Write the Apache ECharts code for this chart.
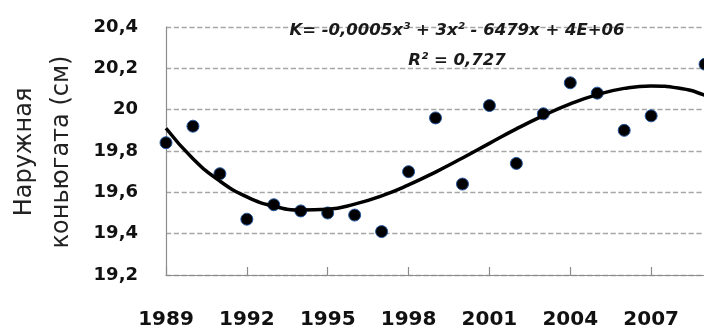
<!DOCTYPE html>
<html>
<head>
<meta charset="utf-8">
<script src="https://cdn.jsdelivr.net/npm/echarts@6/dist/echarts.min.js"></script>
<style>
  html, body { margin: 0; padding: 0; background: #ffffff; }
  #chart { width: 704px; height: 329px; }
</style>
</head>
<body>
<div id="chart"></div>
<script>
// Observed measurements, one value per year
const years = [1989, 1990, 1991, 1992, 1993, 1994, 1995, 1996, 1997, 1998, 1999,
               2000, 2001, 2002, 2003, 2004, 2005, 2006, 2007, 2009];
const conjugate = [19.84, 19.92, 19.69, 19.47, 19.54, 19.51, 19.50, 19.49, 19.41, 19.70, 19.96,
                   19.64, 20.02, 19.74, 19.98, 20.13, 20.08, 19.90, 19.97, 20.22];

// Cubic trend line, sampled by year
const trendYears = [1989, 1990, 1991, 1992, 1993, 1994, 1995, 1996, 1997, 1998, 1999,
                    2000, 2001, 2002, 2003, 2004, 2005, 2006, 2007, 2008, 2009, 2010];
const trendValues = [19.91, 19.763, 19.654, 19.578, 19.533, 19.514, 19.518, 19.543, 19.583, 19.636, 19.698,
                     19.766, 19.837, 19.907, 19.971, 20.028, 20.073, 20.103, 20.115, 20.105, 20.069, 20.004];

const yTicks = ['19,2', '19,4', '19,6', '19,8', '20', '20,2', '20,4'];
const equationText = 'K= -0,0005x³ + 3x² - 6479x + 4E+06';
const r2Text = 'R² = 0,727';
const yTitle = 'Наружная\nконьюгата (см)';

const zip = (xs, ys) => xs.map((x, i) => [x, ys[i]]);

const chart = echarts.init(document.getElementById('chart'), null, { renderer: 'canvas' });

chart.setOption({
  animation: false,
  backgroundColor: '#ffffff',
  grid: {
    left: 166, top: 27, height: 248, width: 566,
    containLabel: false,
    outerBoundsMode: 'none'
  },
  xAxis: {
    type: 'value',
    min: 1989,
    max: 2010,
    interval: 3,
    axisLine: { show: true, lineStyle: { color: '#8c8c8c', width: 1.2 } },
    axisTick: { show: true, inside: true, length: 8, lineStyle: { color: '#8c8c8c', width: 1.2 } },
    splitLine: { show: false },
    axisLabel: {
      margin: 35,
      fontFamily: 'DejaVu Sans',
      fontWeight: 'bold',
      fontSize: 20,
      color: '#111111',
      formatter: v => String(v)
    }
  },
  yAxis: {
    type: 'value',
    min: 19.2,
    max: 20.4,
    interval: 0.2,
    axisLine: { show: true, lineStyle: { color: '#8c8c8c', width: 1.2 } },
    axisTick: { show: false },
    splitLine: {
      show: true,
      lineStyle: { color: '#a6a6a6', type: 'dashed', width: 1.3 }
    },
    axisLabel: {
      margin: 28,
      fontFamily: 'DejaVu Sans',
      fontWeight: 'bold',
      fontSize: 18,
      color: '#111111',
      formatter: v => yTicks[Math.round((v - 19.2) / 0.2)]
    }
  },
  graphic: [
    {
      type: 'text',
      x: 43,
      y: 152,
      rotation: Math.PI / 2,
      style: {
        text: yTitle,
        fontFamily: 'DejaVu Sans',
        fontSize: 24,
        lineHeight: 37,
        fill: '#222222',
        textAlign: 'center',
        textVerticalAlign: 'middle'
      }
    },
    {
      type: 'text',
      x: 457,
      y: 31,
      z: 10,
      style: {
        text: equationText,
        fontFamily: 'DejaVu Sans',
        fontWeight: 'bold',
        fontStyle: 'italic',
        fontSize: 16.5,
        fill: '#1a1a1a',
        textAlign: 'center',
        textVerticalAlign: 'middle'
      }
    },
    {
      type: 'text',
      x: 457,
      y: 61,
      z: 10,
      style: {
        text: r2Text,
        fontFamily: 'DejaVu Sans',
        fontWeight: 'bold',
        fontStyle: 'italic',
        fontSize: 16.5,
        fill: '#1a1a1a',
        textAlign: 'center',
        textVerticalAlign: 'middle'
      }
    }
  ],
  series: [
    {
      type: 'scatter',
      data: zip(years, conjugate),
      symbol: 'circle',
      symbolSize: 12,
      itemStyle: { color: '#000000', borderColor: '#24579f', borderWidth: 1, opacity: 1 },
      z: 2
    },
    {
      type: 'line',
      data: zip(trendYears, trendValues),
      smooth: true,
      showSymbol: false,
      lineStyle: { color: '#000000', width: 3.5 },
      z: 3
    }
  ]
});
</script>
</body>
</html>
